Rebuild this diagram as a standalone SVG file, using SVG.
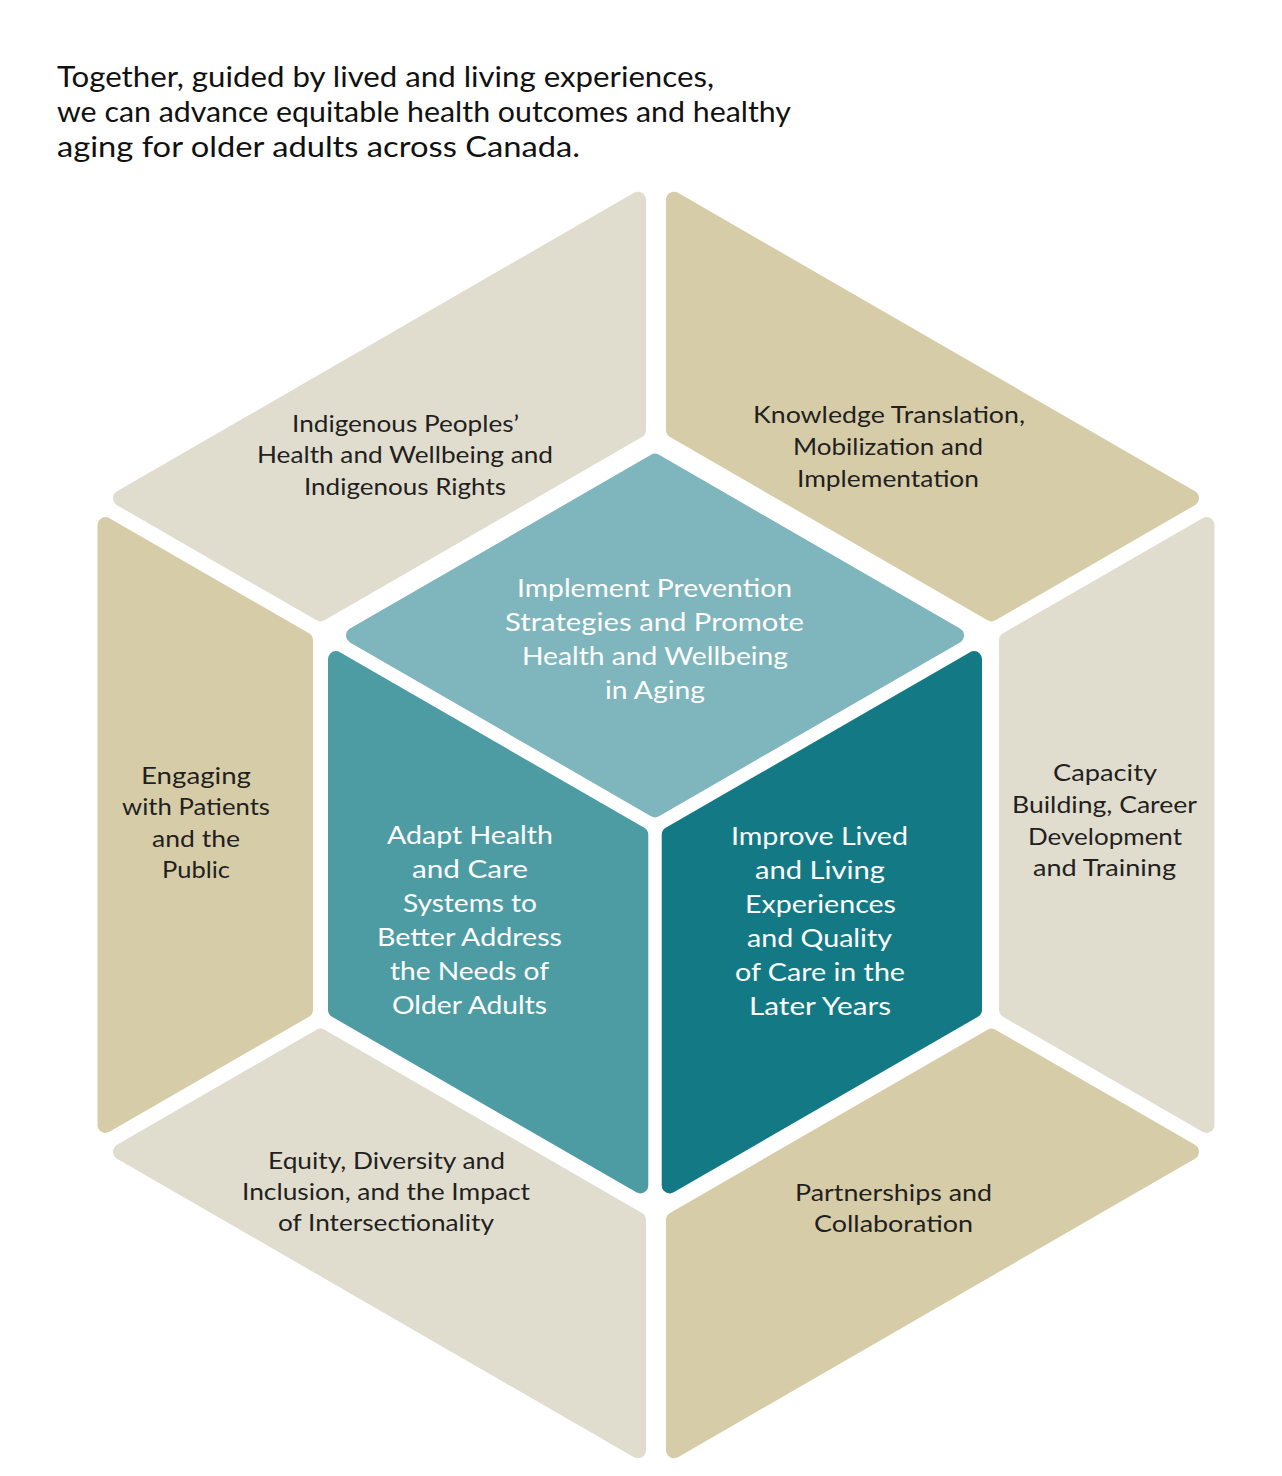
<svg xmlns="http://www.w3.org/2000/svg" width="1282" height="1476" viewBox="0 0 1282 1476">
  <style>
    .piece { stroke-width: 16; stroke-linejoin: round; }
    .beige { fill: #E0DDCF; stroke: #E0DDCF; }
    .khaki { fill: #D6CDA8; stroke: #D6CDA8; }
    .light { fill: #7FB5BC; stroke: #7FB5BC; }
    .mid { fill: #4E9CA3; stroke: #4E9CA3; }
    .dark { fill: #137A85; stroke: #137A85; }
    text { font-family: Lato, "Liberation Sans", sans-serif; text-anchor: middle; }
    .title { font-size: 29px; fill: #111111; text-anchor: start; }
    .ring { font-size: 22.5px; fill: #231F20; }
    .cube { font-size: 24.5px; fill: #FFFFFF; }
  </style>
  <rect width="1282" height="1476" fill="#FFFFFF"/>

  <g id="title">
    <text class="title" x="57" y="87" textLength="657" lengthAdjust="spacingAndGlyphs">Together, guided by lived and living experiences,</text>
    <text class="title" x="57" y="122" textLength="734" lengthAdjust="spacingAndGlyphs">we can advance equitable health outcomes and healthy</text>
    <text class="title" x="57" y="157" textLength="523" lengthAdjust="spacingAndGlyphs">aging for older adults across Canada.</text>
  </g>

  <g id="indigenous">
    <polygon class="piece beige" points="638,199.7 638,430.1 320.5,613.4 121,498.2"/>
    <text class="ring" x="405.5" y="431.7" textLength="227" lengthAdjust="spacingAndGlyphs">Indigenous Peoples’</text>
    <text class="ring" x="405" y="463.3" textLength="296" lengthAdjust="spacingAndGlyphs">Health and Wellbeing and</text>
    <text class="ring" x="405" y="495" textLength="202" lengthAdjust="spacingAndGlyphs">Indigenous Rights</text>
  </g>

  <g id="knowledge">
    <polygon class="piece khaki" points="674,199.7 674,430.1 991.5,613.4 1191,498.2"/>
    <text class="ring" x="889" y="423.3" textLength="272" lengthAdjust="spacingAndGlyphs">Knowledge Translation,</text>
    <text class="ring" x="888" y="455" textLength="190" lengthAdjust="spacingAndGlyphs">Mobilization and</text>
    <text class="ring" x="888" y="486.5" textLength="182" lengthAdjust="spacingAndGlyphs">Implementation</text>
  </g>

  <g id="capacity">
    <polygon class="piece beige" points="1206.5,525.1 1007,640.2 1007,1009.8 1206.5,1124.9"/>
    <text class="ring" x="1105" y="780.5" textLength="104" lengthAdjust="spacingAndGlyphs">Capacity</text>
    <text class="ring" x="1104.5" y="812.5" textLength="185" lengthAdjust="spacingAndGlyphs">Building, Career</text>
    <text class="ring" x="1105" y="844.5" textLength="154" lengthAdjust="spacingAndGlyphs">Development</text>
    <text class="ring" x="1104.5" y="875.5" textLength="143" lengthAdjust="spacingAndGlyphs">and Training</text>
  </g>

  <g id="partnerships">
    <polygon class="piece khaki" points="674,1450.3 674,1219.9 991.5,1036.6 1191,1151.8"/>
    <text class="ring" x="893.5" y="1200.5" textLength="197" lengthAdjust="spacingAndGlyphs">Partnerships and</text>
    <text class="ring" x="893.5" y="1231.5" textLength="159" lengthAdjust="spacingAndGlyphs">Collaboration</text>
  </g>

  <g id="equity">
    <polygon class="piece beige" points="638,1450.3 638,1219.9 320.5,1036.6 121,1151.8"/>
    <text class="ring" x="386.5" y="1168.5" textLength="237" lengthAdjust="spacingAndGlyphs">Equity, Diversity and</text>
    <text class="ring" x="386" y="1199.5" textLength="288" lengthAdjust="spacingAndGlyphs">Inclusion, and the Impact</text>
    <text class="ring" x="386" y="1230.5" textLength="216" lengthAdjust="spacingAndGlyphs">of Intersectionality</text>
  </g>

  <g id="engaging">
    <polygon class="piece khaki" points="105.5,525.1 305,640.2 305,1009.8 105.5,1124.9"/>
    <text class="ring" x="196" y="783.5" textLength="110" lengthAdjust="spacingAndGlyphs">Engaging</text>
    <text class="ring" x="196" y="814.5" textLength="148" lengthAdjust="spacingAndGlyphs">with Patients</text>
    <text class="ring" x="196" y="846.5" textLength="88" lengthAdjust="spacingAndGlyphs">and the</text>
    <text class="ring" x="196" y="877.5" textLength="68" lengthAdjust="spacingAndGlyphs">Public</text>
  </g>

  <g id="prevention">
    <polygon class="piece light" points="655,461.7 956,635.5 655,809.3 354,635.5"/>
    <text class="cube" x="654.5" y="596.7" textLength="275" lengthAdjust="spacingAndGlyphs">Implement Prevention</text>
    <text class="cube" x="654.5" y="631" textLength="299" lengthAdjust="spacingAndGlyphs">Strategies and Promote</text>
    <text class="cube" x="655" y="665" textLength="266" lengthAdjust="spacingAndGlyphs">Health and Wellbeing</text>
    <text class="cube" x="655" y="698.5" textLength="100" lengthAdjust="spacingAndGlyphs">in Aging</text>
  </g>

  <g id="adapt">
    <polygon class="piece mid" points="336,659.1 640.3,834.8 640.3,1185.4 336,1009.7"/>
    <text class="cube" x="470" y="843.5" textLength="166" lengthAdjust="spacingAndGlyphs">Adapt Health</text>
    <text class="cube" x="470" y="877.6" textLength="116" lengthAdjust="spacingAndGlyphs">and Care</text>
    <text class="cube" x="470" y="911.7" textLength="134" lengthAdjust="spacingAndGlyphs">Systems to</text>
    <text class="cube" x="469.5" y="945.8" textLength="185" lengthAdjust="spacingAndGlyphs">Better Address</text>
    <text class="cube" x="469.5" y="979.9" textLength="159" lengthAdjust="spacingAndGlyphs">the Needs of</text>
    <text class="cube" x="469.5" y="1014" textLength="155" lengthAdjust="spacingAndGlyphs">Older Adults</text>
  </g>

  <g id="improve">
    <polygon class="piece dark" points="974,659.1 669.7,834.8 669.7,1185.4 974,1009.7"/>
    <text class="cube" x="819.5" y="845" textLength="177" lengthAdjust="spacingAndGlyphs">Improve Lived</text>
    <text class="cube" x="820" y="879" textLength="130" lengthAdjust="spacingAndGlyphs">and Living</text>
    <text class="cube" x="820.5" y="913" textLength="151" lengthAdjust="spacingAndGlyphs">Experiences</text>
    <text class="cube" x="819.5" y="947" textLength="145" lengthAdjust="spacingAndGlyphs">and Quality</text>
    <text class="cube" x="820" y="981" textLength="170" lengthAdjust="spacingAndGlyphs">of Care in the</text>
    <text class="cube" x="820" y="1015" textLength="142" lengthAdjust="spacingAndGlyphs">Later Years</text>
  </g>
</svg>
